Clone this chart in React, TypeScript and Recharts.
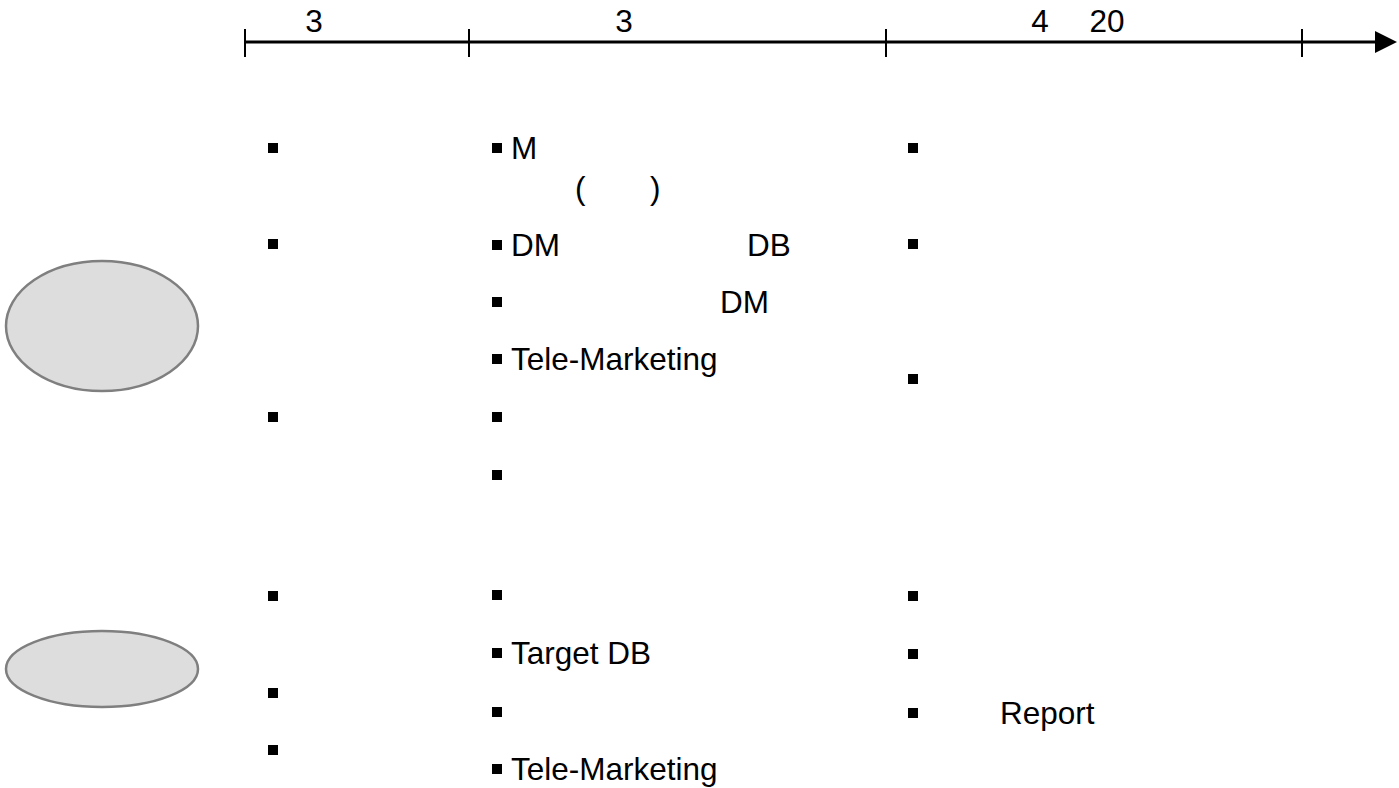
import { ScatterChart, Scatter, XAxis, YAxis, ReferenceLine } from "recharts";

// layout space = page pixels (x: 0..1399, y: 0..788, top-down)
const W = 1399;
const H = 788;

const timelineY = 42;
const timelineStart = 245;
const timelineEnd = 1397;
const phaseTicks = [245, 469, 886, 1302];

const phaseLabels = [
  { x: 314, y: 21, text: "3" },
  { x: 624, y: 21, text: "3" },
  { x: 1040, y: 21, text: "4" },
  { x: 1107, y: 21, text: "20" },
];

const arrowHead = [{ x: 1397, y: 42 }];

const groups = [
  { x: 102, y: 326, rx: 96, ry: 65 },
  { x: 102, y: 669, rx: 96, ry: 38 },
];

const bullets = [
  // column 1
  { x: 273, y: 148 },
  { x: 273, y: 244 },
  { x: 273, y: 417 },
  { x: 273, y: 596 },
  { x: 273, y: 693 },
  { x: 273, y: 750 },
  // column 2
  { x: 497, y: 148 },
  { x: 497, y: 245 },
  { x: 497, y: 302 },
  { x: 497, y: 359 },
  { x: 497, y: 417 },
  { x: 497, y: 475 },
  { x: 497, y: 595 },
  { x: 497, y: 653 },
  { x: 497, y: 712 },
  { x: 497, y: 769 },
  // column 3
  { x: 913, y: 148 },
  { x: 913, y: 244 },
  { x: 913, y: 379 },
  { x: 913, y: 596 },
  { x: 913, y: 654 },
  { x: 913, y: 713 },
];

const items = [
  { x: 511, y: 148, text: "M" },
  { x: 575, y: 188, text: "(" },
  { x: 650, y: 188, text: ")" },
  { x: 511, y: 245, text: "DM" },
  { x: 747, y: 245, text: "DB" },
  { x: 720, y: 302, text: "DM" },
  { x: 511, y: 359, text: "Tele-Marketing" },
  { x: 511, y: 653, text: "Target DB" },
  { x: 511, y: 769, text: "Tele-Marketing" },
  { x: 1000, y: 713, text: "Report" },
];

const FONT = "'Liberation Sans', Arial, sans-serif";
const FS = 31.5;

const Bullet = (p: any) => (
  <rect x={p.cx - 5} y={p.cy - 5} width={10} height={10} fill="#000" />
);

const ItemText = (p: any) => (
  <text
    x={p.cx}
    y={p.cy}
    dominantBaseline="central"
    fontSize={FS}
    fontFamily={FONT}
    fill="#000"
  >
    {p.payload.text}
  </text>
);

const PhaseText = (p: any) => (
  <text
    x={p.cx}
    y={p.cy}
    textAnchor="middle"
    dominantBaseline="central"
    fontSize={FS}
    fontFamily={FONT}
    fill="#000"
  >
    {p.payload.text}
  </text>
);

const GroupEllipse = (p: any) => (
  <ellipse
    cx={p.cx}
    cy={p.cy}
    rx={p.payload.rx}
    ry={p.payload.ry}
    fill="#dddddd"
    stroke="#7f7f7f"
    strokeWidth={2.5}
  />
);

const Arrow = (p: any) => (
  <polygon
    points={`${p.cx},${p.cy} ${p.cx - 22},${p.cy - 11} ${p.cx - 22},${p.cy + 11}`}
    fill="#000"
  />
);

export default function App() {
  return (
    <div style={{ position: "absolute", left: 0, top: 0, background: "#fff" }}>
      <ScatterChart width={W} height={H} margin={{ top: 0, right: 0, bottom: 0, left: 0 }}>
        <XAxis type="number" dataKey="x" domain={[0, W]} hide allowDataOverflow />
        <YAxis type="number" dataKey="y" domain={[0, H]} reversed hide allowDataOverflow />
        <ReferenceLine
          segment={[
            { x: timelineStart, y: timelineY },
            { x: timelineEnd - 20, y: timelineY },
          ]}
          stroke="#000"
          strokeWidth={3}
        />
        {phaseTicks.map((t) => (
          <ReferenceLine
            key={t}
            segment={[
              { x: t, y: 29 },
              { x: t, y: 57 },
            ]}
            stroke="#000"
            strokeWidth={2}
          />
        ))}
        <Scatter data={arrowHead} shape={Arrow} isAnimationActive={false} />
        <Scatter data={phaseLabels} shape={PhaseText} isAnimationActive={false} />
        <Scatter data={groups} shape={GroupEllipse} isAnimationActive={false} />
        <Scatter data={bullets} shape={Bullet} isAnimationActive={false} />
        <Scatter data={items} shape={ItemText} isAnimationActive={false} />
      </ScatterChart>
    </div>
  );
}
